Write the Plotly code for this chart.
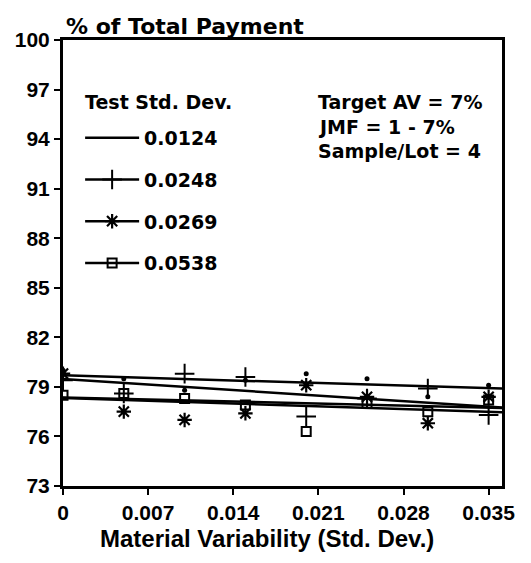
import numpy as np
import plotly.graph_objects as go

# ---- data ----
material_sd = [0.0, 0.005, 0.010, 0.015, 0.020, 0.025, 0.030, 0.035]
test_sd_labels = ["0.0124", "0.0248", "0.0269", "0.0538"]
pay_0124 = [80.0, 79.5, 78.8, 79.4, 79.8, 79.5, 78.4, 79.1]
pay_0248 = [79.4, 78.6, 79.8, 79.6, 77.2, 78.3, 78.9, 77.3]
pay_0269 = [79.8, 77.5, 77.0, 77.4, 79.1, 78.4, 76.8, 78.4]
pay_0538 = [78.5, 78.6, 78.3, 77.9, 76.3, 78.0, 77.5, 78.2]
y_ticks = [73, 76, 79, 82, 85, 88, 91, 94, 97, 100]
x_ticks = [0, 0.007, 0.014, 0.021, 0.028, 0.035]
x_tick_labels = ["0", "0.007", "0.014", "0.021", "0.028", "0.035"]
notes = ["Target AV = 7%", "JMF = 1 - 7%", "Sample/Lot = 4"]

X_RANGE = [0, 0.0361]
Y_RANGE = [73, 100]

series = [pay_0124, pay_0248, pay_0269, pay_0538]
styles = [
    dict(symbol="circle", size=5, line=dict(width=0, color="black")),
    dict(symbol="cross-thin-open", size=14, line=dict(width=2, color="black")),
    dict(symbol="asterisk-open", size=12, line=dict(width=2.2, color="black")),
    dict(symbol="square-open", size=9, line=dict(width=2, color="black")),
]

LEG_FONT = dict(family="DejaVu Sans", size=19, color="black", weight="bold")
AX_FONT = dict(family="Liberation Sans", size=21, color="black", weight="bold")

fig = go.Figure()
for i, (lab, ys, st) in enumerate(zip(test_sd_labels, series, styles)):
    # observed points
    fig.add_trace(go.Scatter(
        x=material_sd, y=ys, mode="markers", marker=dict(color="black", **st),
        showlegend=False, legendgroup=lab, hoverinfo="x+y", name=lab,
    ))
    # least-squares trend line carries the legend key
    b1, b0 = np.polyfit(material_sd, ys, 1)
    xf = np.array(X_RANGE)
    fig.add_trace(go.Scatter(
        x=xf, y=b0 + b1 * xf,
        mode="lines" if i == 0 else "lines+markers",
        line=dict(color="black", width=2.5),
        marker=dict(color="black", **st),
        selectedpoints=[], unselected=dict(marker=dict(opacity=0)),
        name=lab, legendgroup=lab, hoverinfo="skip",
    ))

for k, t in enumerate(notes):
    fig.add_annotation(
        text=t, xref="paper", yref="paper", x=0.577, y=0.861 - k * 0.055,
        xanchor="left", yanchor="middle", showarrow=False, font=LEG_FONT,
    )

# legend heading
fig.add_annotation(
    text="Test Std. Dev.", xref="paper", yref="paper", x=0.045, y=0.861,
    xanchor="left", yanchor="middle", showarrow=False, font=LEG_FONT,
)

fig.add_annotation(
    text="% of Total Payment", xref="paper", yref="paper", x=0.003, y=1.0,
    xanchor="left", yanchor="bottom", yshift=-1, showarrow=False,
    font=dict(family="DejaVu Sans", size=22, color="black", weight="bold"),
)
fig.add_annotation(
    text="Material Variability (Std. Dev.)", xref="paper", yref="paper",
    x=0.465, y=0, xanchor="center", yanchor="top", yshift=-37, showarrow=False,
    font=dict(family="Liberation Sans", size=24, color="black", weight="bold"),
)

fig.update_layout(
    width=531, height=563,
    margin=dict(l=55, r=37, t=32, b=85, autoexpand=False),
    paper_bgcolor="white", plot_bgcolor="white",
    showlegend=True,
    legend=dict(
        x=0.039, y=0.823, xanchor="left", yanchor="top",
        font=LEG_FONT, bgcolor="rgba(0,0,0,0)",
        tracegroupgap=14, itemwidth=54,
    ),
)
fig.update_xaxes(
    range=X_RANGE, tickvals=x_ticks, ticktext=x_tick_labels,
    showgrid=False, zeroline=False, automargin=False,
    showline=True, linecolor="black", linewidth=2.5, mirror=True,
    ticks="outside", ticklen=6, tickwidth=2, tickcolor="black",
    tickfont=AX_FONT,
)
fig.update_yaxes(
    range=Y_RANGE, tickvals=y_ticks,
    showgrid=False, zeroline=False, automargin=False,
    showline=True, linecolor="black", linewidth=3, mirror=True,
    ticks="outside", ticklen=6, tickwidth=2, tickcolor="black",
    tickfont=AX_FONT,
)

fig.write_html("out.html")
